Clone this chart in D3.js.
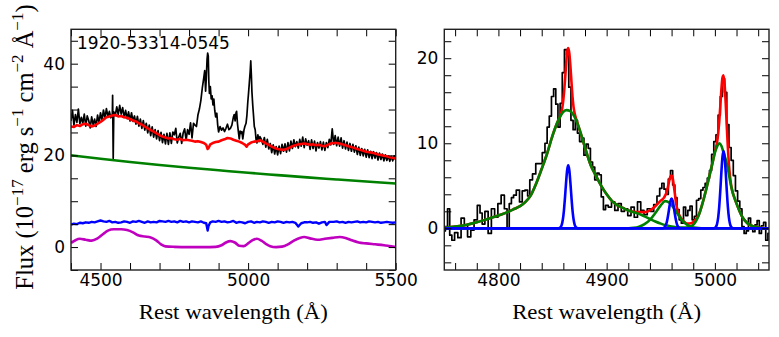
<!DOCTYPE html>
<html><head><meta charset="utf-8">
<script src="https://cdn.jsdelivr.net/npm/d3@7/dist/d3.min.js"></script>
<style>
html,body{margin:0;padding:0;background:#fff;}
svg{display:block;}
.tick text{font-family:"DejaVu Sans",sans-serif;font-size:17px;fill:#000;}
</style></head>
<body><svg id="c" width="779" height="337"></svg>
<script>
// ---------- DATA ----------
const spectrumLabel = "1920-53314-0545";
const leftXTicks = [4400,4500,4600,4700,4800,4900,5000,5100,5200,5300,5400,5500];
const leftXLabels = [4500,5000,5500];
const leftYTicks = [-5,0,5,10,15,20,25,30,35,40,45];
const leftYLabels = [0,20,40];
const rightXTicks = [4760,4780,4800,4820,4840,4860,4880,4900,4920,4940,4960,4980,5000,5020,5040];
const rightXLabels = [4800,4900,5000];
const rightYTicks = [-4,-2,0,2,4,6,8,10,12,14,16,18,20,22];
const rightYLabels = [0,10,20];

// observed spectrum (left)
const obsFlux = [
[4400,27.5],[4405,29.8],[4410,26.6],[4415,28.9],[4420,27.2],[4425,30.1],[4430,26.9],[4435,28.3],[4440,27.0],[4445,29.0],
[4450,26.4],[4455,28.6],[4460,27.6],[4465,26.0],[4470,28.4],[4475,26.7],[4480,27.9],[4485,26.3],[4490,28.8],[4495,27.1],
[4500,29.3],[4505,27.6],[4510,29.9],[4515,28.1],[4520,30.2],[4525,28.5],[4530,29.6],[4535,28.2],[4540,29.0],[4541,33.1],
[4543,19.3],[4545,29.5],[4550,28.7],[4555,30.6],[4560,28.9],[4565,30.9],[4570,29.0],[4575,30.4],[4580,28.3],[4585,29.8],
[4590,28.0],[4595,29.5],[4600,27.5],[4605,29.3],[4610,27.4],[4615,28.6],[4620,26.8],[4625,28.5],[4630,26.4],[4635,27.9],
[4640,25.9],[4645,27.6],[4650,25.5],[4655,27.0],[4660,24.9],[4665,26.6],[4670,24.3],[4675,26.2],[4680,24.0],[4685,25.6],
[4690,23.6],[4695,25.4],[4700,23.2],[4705,25.0],[4710,22.8],[4715,24.6],[4720,22.5],[4725,24.8],[4730,22.4],[4735,24.9],
[4740,22.6],[4745,25.1],[4750,24.5],[4755,25.9],[4760,22.7],[4765,24.0],[4770,24.8],[4775,22.6],[4780,24.9],[4785,25.8],
[4790,23.3],[4795,25.6],[4800,24.6],[4805,27.1],[4810,23.8],[4815,27.0],[4820,26.6],[4825,26.3],[4830,28.8],[4835,30.1],
[4840,32.0],[4845,34.8],[4850,37.0],[4853,38.5],[4856,34.0],[4858,36.4],[4861,41.0],[4863,42.3],[4865,41.7],[4867,36.0],
[4869,33.5],[4872,35.0],[4875,32.3],[4878,33.0],[4881,31.0],[4884,32.3],[4887,29.8],[4890,28.4],[4894,29.2],[4897,26.6],
[4900,25.1],[4905,26.3],[4910,25.5],[4915,26.0],[4920,25.2],[4925,25.9],[4930,26.8],[4935,25.6],[4940,25.9],[4945,26.6],
[4950,28.3],[4953,28.9],[4956,27.5],[4959,29.3],[4961,29.6],[4964,26.9],[4967,25.2],[4970,23.6],[4973,25.3],[4976,24.8],
[4979,25.2],[4982,23.6],[4986,25.5],[4989,26.3],[4993,27.0],[4996,28.8],[4999,31.7],[5001,33.2],[5004,35.7],[5007,38.3],
[5009,40.6],[5011,37.6],[5013,33.8],[5016,30.7],[5018,29.0],[5021,26.3],[5024,25.6],[5027,23.4],[5030,22.7],[5033,24.5],
[5037,23.0],[5040,24.1],[5045,23.5],[5050,22.4],[5055,23.9],[5060,21.8],[5065,23.5],[5070,21.4],[5075,22.6],[5080,20.6],
[5085,22.3],[5090,20.3],[5095,21.9],[5100,20.1],[5105,22.0],[5110,20.4],[5115,22.4],[5120,20.9],[5125,22.5],[5130,20.7],
[5135,22.8],[5140,21.0],[5145,23.1],[5150,21.5],[5155,23.4],[5160,21.9],[5165,23.0],[5170,21.6],[5175,23.5],[5180,22.0],
[5185,24.0],[5190,21.7],[5195,23.6],[5200,22.2],[5205,23.2],[5210,21.3],[5215,23.4],[5220,21.5],[5225,23.1],[5230,21.0],
[5235,22.8],[5240,21.6],[5245,23.0],[5250,21.2],[5255,22.9],[5260,21.1],[5265,22.8],[5270,21.7],[5275,23.5],[5280,22.3],
[5285,25.8],[5290,22.4],[5295,24.3],[5300,22.1],[5305,24.0],[5310,22.0],[5315,23.8],[5320,21.6],[5325,23.2],[5330,21.4],
[5335,22.9],[5340,21.1],[5345,22.6],[5350,20.9],[5355,22.4],[5360,20.7],[5365,22.1],[5370,20.2],[5375,21.8],[5380,20.0],
[5385,21.5],[5390,19.9],[5395,21.3],[5400,19.6],[5405,21.2],[5410,19.5],[5415,20.9],[5420,19.3],[5425,20.8],[5430,19.4],
[5435,20.6],[5440,19.0],[5445,20.5],[5450,19.1],[5455,20.3],[5460,18.8],[5465,20.1],[5470,18.9],[5475,19.9],[5480,18.7],
[5485,19.8],[5490,18.8],[5495,19.9],[5500,19.0]];

// continuum model (red)
const contModel = [
[4400,26.3],[4410,26.2],[4420,26.6],[4430,26.4],[4440,26.8],[4450,26.9],[4460,26.6],[4470,26.3],[4480,26.5],[4490,26.9],
[4500,27.3],[4510,27.8],[4520,28.3],[4530,28.5],[4540,28.7],[4550,28.8],[4560,28.5],[4570,28.6],[4580,28.3],[4590,28.2],
[4600,27.9],[4610,27.6],[4620,27.4],[4630,27.0],[4640,26.7],[4650,26.3],[4660,25.9],[4670,25.5],[4680,25.2],[4690,24.8],
[4700,24.4],[4710,24.1],[4720,23.9],[4730,23.7],[4740,23.8],[4750,23.5],[4760,23.4],[4770,23.6],[4780,23.3],[4790,23.4],
[4800,23.3],[4810,23.2],[4820,23.0],[4830,23.1],[4840,22.9],[4850,22.7],[4858,22.3],[4863,21.4],[4866,21.6],[4872,22.4],
[4880,22.7],[4890,22.9],[4900,23.0],[4910,23.3],[4920,23.5],[4930,23.8],[4940,23.7],[4950,23.4],[4960,23.2],[4970,23.0],
[4980,22.7],[4990,22.3],[4995,21.9],[5000,22.4],[5010,22.8],[5020,23.0],[5030,23.1],[5040,23.3],[5050,23.0],[5060,22.6],
[5070,22.3],[5080,21.9],[5090,21.6],[5100,21.4],[5110,21.3],[5120,21.2],[5130,21.4],[5140,21.7],[5150,22.0],[5160,22.2],
[5170,22.4],[5180,22.5],[5190,22.6],[5200,22.5],[5210,22.3],[5220,22.4],[5230,22.2],[5240,22.3],[5250,22.1],[5260,22.0],
[5270,22.3],[5280,22.6],[5290,22.7],[5300,22.7],[5310,22.6],[5320,22.4],[5330,22.2],[5340,22.0],[5350,21.8],[5360,21.6],
[5370,21.4],[5380,21.2],[5390,21.0],[5400,20.8],[5410,20.7],[5420,20.6],[5430,20.4],[5440,20.2],[5450,20.1],[5460,19.9],
[5470,19.8],[5480,19.6],[5490,19.5],[5500,19.3]];

// power law (green)
const powerLaw = [
[4400,20.0],[4500,19.25],[4600,18.55],[4700,17.9],[4800,17.3],[4900,16.75],[5000,16.2],[5100,15.7],[5200,15.2],[5300,14.75],[5400,14.3],[5500,13.85]];

// host galaxy (blue)
const hostGalaxy = [
[4400,4.9],[4410,5.1],[4420,5.0],[4430,5.3],[4440,5.2],[4450,5.4],[4460,5.3],[4470,5.5],[4480,5.4],[4490,5.6],
[4500,5.8],[4510,5.6],[4520,5.5],[4530,5.7],[4540,5.4],[4550,5.5],[4560,5.3],[4570,5.4],[4580,5.6],[4590,5.5],
[4600,5.3],[4610,5.6],[4620,5.5],[4630,5.7],[4640,5.5],[4650,5.3],[4660,5.6],[4670,5.4],[4680,5.5],[4690,5.4],
[4700,5.7],[4710,5.6],[4720,5.5],[4730,5.7],[4740,5.5],[4750,5.6],[4760,5.4],[4770,5.7],[4780,5.5],[4790,5.6],
[4800,5.4],[4810,5.6],[4820,5.5],[4830,5.4],[4840,5.6],[4850,5.3],[4858,5.2],[4863,3.6],[4866,4.6],[4872,5.4],
[4880,5.6],[4890,5.5],[4900,5.7],[4910,5.5],[4920,5.6],[4930,5.4],[4940,5.5],[4950,5.7],[4960,5.3],[4970,5.5],
[4980,5.4],[4990,5.2],[5000,5.5],[5010,5.6],[5020,5.3],[5030,5.5],[5040,5.4],[5050,5.6],[5060,5.5],[5070,5.3],
[5080,5.5],[5090,5.4],[5100,5.6],[5110,5.5],[5120,5.3],[5130,5.5],[5140,5.4],[5150,5.5],[5160,5.3],[5170,4.5],
[5180,5.2],[5190,5.4],[5200,5.4],[5210,5.5],[5220,5.3],[5230,5.4],[5240,5.1],[5250,5.4],[5260,5.5],[5266,4.8],
[5275,5.5],[5290,5.5],[5300,5.6],[5310,5.4],[5320,5.5],[5330,5.3],[5340,5.5],[5350,5.4],[5360,5.5],[5370,5.6],
[5380,5.4],[5390,5.5],[5400,5.4],[5410,5.6],[5420,5.5],[5430,5.4],[5440,5.5],[5450,5.3],[5460,5.4],[5470,5.5],
[5480,5.4],[5490,5.3],[5500,5.4]];

// Fe II (magenta)
const feII = [
[4400,0.9],[4415,1.5],[4430,1.8],[4450,1.6],[4470,1.4],[4490,1.9],[4510,2.9],[4525,3.6],[4545,3.9],[4570,3.9],
[4590,3.7],[4610,3.2],[4630,2.5],[4650,2.3],[4670,2.1],[4690,1.4],[4705,0.6],[4720,0.15],[4750,0.05],[4800,0.0],
[4850,0.0],[4890,0.05],[4910,0.4],[4925,1.0],[4940,1.3],[4955,1.0],[4970,0.3],[4985,0.2],[5000,0.8],[5015,1.5],
[5030,1.8],[5045,1.4],[5060,0.7],[5075,0.2],[5095,0.0],[5115,0.1],[5135,0.6],[5155,1.4],[5175,2.0],[5190,2.2],
[5210,1.9],[5235,1.6],[5260,1.8],[5285,2.0],[5310,2.2],[5330,2.0],[5350,1.5],[5375,1.0],[5400,0.8],[5430,0.6],
[5460,0.4],[5480,0.2],[5500,0.0]];

// continuum-subtracted line spectrum (right)
const lineFlux = [
[4750,-0.3],[4752,0.2],[4754,2.3],[4756,-0.8],[4758,-1.4],[4761,-0.5],[4764,-1.1],[4767,1.2],[4770,0.4],[4773,-1.0],
[4776,-0.2],[4779,1.0],[4782,2.7],[4784,1.8],[4786,0.5],[4789,2.0],[4792,-0.6],[4795,2.3],[4798,1.3],[4801,2.9],
[4804,3.9],[4807,2.3],[4809,0.0],[4811,2.9],[4813,3.6],[4815,3.9],[4818,4.5],[4821,3.1],[4823,4.4],[4826,4.5],
[4828,3.8],[4830,5.7],[4833,6.4],[4836,7.6],[4839,7.6],[4842,8.9],[4844,10.0],[4846,11.9],[4848,13.2],[4850,15.5],
[4852,16.4],[4854,14.6],[4856,11.9],[4858,14.7],[4860,18.3],[4862,21.0],[4864,20.4],[4866,16.6],[4868,12.7],[4870,11.6],
[4872,12.7],[4874,11.2],[4876,10.2],[4878,10.6],[4880,8.6],[4882,9.9],[4884,9.4],[4886,7.8],[4888,7.2],[4890,5.7],
[4892,6.5],[4894,6.3],[4896,3.7],[4898,2.2],[4900,2.7],[4903,2.5],[4906,3.1],[4909,2.1],[4912,2.9],[4915,2.0],
[4918,2.3],[4921,1.5],[4924,2.5],[4927,1.3],[4930,3.1],[4933,2.1],[4936,1.6],[4939,2.3],[4942,2.0],[4945,2.8],
[4948,3.8],[4950,4.7],[4952,5.3],[4954,4.6],[4956,4.0],[4958,5.8],[4960,6.8],[4962,5.1],[4964,3.6],[4966,2.2],
[4968,1.0],[4970,0.6],[4972,2.5],[4974,1.5],[4976,2.1],[4978,2.6],[4980,1.0],[4982,1.4],[4984,3.3],[4986,3.5],
[4988,4.5],[4990,4.8],[4992,5.3],[4994,5.9],[4996,6.8],[4998,8.7],[5000,10.2],[5002,11.0],[5004,13.3],[5006,15.5],
[5008,17.6],[5010,16.0],[5012,12.2],[5014,9.5],[5016,8.0],[5018,6.2],[5020,4.4],[5022,3.2],[5024,2.3],[5026,0.2],
[5028,-0.6],[5030,-0.3],[5032,1.2],[5034,0.3],[5036,-0.4],[5038,0.4],[5040,0.9],[5042,-0.6],[5044,0.3],[5046,0.7],
[5048,-1.4],[5050,-0.6]];

// total line model (red)
const totalModel = [
[4750,0.05],[4760,0.2],[4770,0.4],[4780,0.7],[4790,1.1],[4800,1.5],[4810,2.0],[4815,2.3],[4820,2.6],[4825,3.1],
[4830,3.9],[4835,5.3],[4840,7.0],[4845,8.8],[4850,10.9],[4855,12.6],[4856.5,13.0],[4857.5,13.35],[4858.5,13.8],[4859.5,14.6],
[4860.5,15.8],[4861.5,17.4],[4862.5,19.2],[4863.5,20.7],[4864.5,21.2],[4865.5,20.6],[4866.5,19.1],[4867.5,17.2],[4868.5,15.4],[4869.5,14.2],
[4870.5,13.5],[4871.5,13.0],[4873,12.4],[4875,11.6],[4880,9.5],[4885,7.5],[4890,6.2],[4895,5.0],[4900,4.0],[4905,3.2],
[4910,2.7],[4915,2.4],[4920,2.1],[4925,1.95],[4930,1.9],[4935,1.9],[4940,2.1],[4945,2.6],[4950,3.25],[4953,3.6],
[4954,3.85],[4955,4.1],[4956,4.5],[4957,5.1],[4958,5.7],[4959,6.1],[4960,6.2],[4961,5.9],[4962,5.1],[4963,4.1],
[4964,3.1],[4965,2.4],[4966,1.9],[4967,1.6],[4970,1.0],[4975,0.55],[4978,0.6],[4980,0.75],[4985,1.55],[4990,3.6],
[4995,6.2],[4998,7.8],[5000,9.0],[5001,9.5],[5002,10.1],[5003,11.1],[5004,12.5],[5005,14.35],[5006,16.3],[5007,17.7],
[5008,18.0],[5009,16.9],[5010,14.7],[5011,12.0],[5012,9.5],[5013,7.5],[5014,6.1],[5015,5.1],[5016,4.46],[5018,3.6],
[5020,2.9],[5025,1.4],[5030,0.6],[5035,0.25],[5040,0.1],[5045,0.03],[5050,0.0]];

// broad components (green)
const broadHb = [
[4750,0.05],[4760,0.2],[4770,0.4],[4780,0.7],[4790,1.1],[4800,1.5],[4810,2.0],[4815,2.3],[4820,2.6],[4825,3.1],
[4830,3.9],[4835,5.3],[4840,7.0],[4845,8.8],[4850,10.9],[4855,12.6],[4860,13.7],[4863,13.9],[4866,13.8],[4870,13.2],
[4875,11.6],[4880,9.5],[4885,7.5],[4890,6.2],[4895,5.0],[4900,4.0],[4905,3.2],[4910,2.7],[4915,2.4],[4920,2.1],
[4925,1.9],[4930,1.7],[4935,1.4],[4940,1.1],[4945,0.8],[4950,0.55],[4955,0.35],[4960,0.2],[4970,0.08],[4980,0.02],
[4990,0.0],[5050,0.0]];
const broadO4959 = [
[4750,0.0],[4920,0.0],[4925,0.05],[4930,0.2],[4935,0.5],[4940,1.0],[4945,1.8],[4950,2.7],[4954,3.2],[4958,3.0],
[4962,2.4],[4966,1.6],[4970,0.9],[4975,0.35],[4980,0.1],[4985,0.02],[4990,0.0],[5050,0.0]];
const broadO5007 = [
[4750,0.0],[4970,0.0],[4975,0.1],[4980,0.4],[4985,1.5],[4990,3.6],[4995,6.2],[4998,7.8],[5000,8.9],[5002,9.6],
[5004,10.0],[5006,9.7],[5008,8.9],[5010,8.1],[5012,7.0],[5014,5.6],[5016,4.4],[5018,3.6],[5020,2.9],[5025,1.4],
[5030,0.6],[5035,0.25],[5040,0.1],[5045,0.03],[5050,0.0]];

// narrow components (blue)
const narrowHb = [
[4750,0],[4855.5,0],[4856.5,0.05],[4857.5,0.15],[4858.5,0.41],[4859.5,1.0],[4860.5,2.06],[4861.5,3.6],[4862.5,5.37],[4863.5,6.83],
[4864.5,7.4],[4865.5,6.83],[4866.5,5.37],[4867.5,3.6],[4868.5,2.06],[4869.5,1.0],[4870.5,0.41],[4871.5,0.15],[4872.5,0.05],[4873.5,0],[5050,0]];
const narrowO4959 = [
[4750,0],[4952,0],[4953,0.07],[4954,0.2],[4955,0.47],[4956,0.97],[4957,1.7],[4958,2.54],[4959,3.23],[4960,3.5],
[4961,3.23],[4962,2.54],[4963,1.7],[4964,0.97],[4965,0.47],[4966,0.2],[4967,0.07],[4968,0],[5050,0]];
const narrowO5007 = [
[4750,0],[4999,0],[5000,0.06],[5001,0.18],[5002,0.51],[5003,1.23],[5004,2.53],[5005,4.43],[5006,6.6],[5007,8.4],
[5008,9.1],[5009,8.4],[5010,6.6],[5011,4.43],[5012,2.53],[5013,1.23],[5014,0.51],[5015,0.18],[5016,0.06],[5017,0],[5050,0]];

// ---------- DRAW ----------
const svg = d3.select("#c");
svg.append("rect").attr("width",779).attr("height",337).attr("fill","#fff");

const L = {x0:71, x1:395.7, y0:29.3, y1:270};
const R = {x0:444.3, x1:769, y0:29.3, y1:270};
const lx = d3.scaleLinear().domain([4400,5500]).range([L.x0,L.x1]);
const ly = d3.scaleLinear().domain([-5,47.5]).range([L.y1,L.y0]);
const rx = d3.scaleLinear().domain([4750,5050]).range([R.x0,R.x1]);
const ry = d3.scaleLinear().domain([-4.9,23.4]).range([R.y1,R.y0]);

const defs = svg.append("defs");
defs.append("clipPath").attr("id","clipL").append("rect")
  .attr("x",L.x0).attr("y",L.y0).attr("width",L.x1-L.x0).attr("height",L.y1-L.y0);
defs.append("clipPath").attr("id","clipR").append("rect")
  .attr("x",R.x0).attr("y",R.y0).attr("width",R.x1-R.x0).attr("height",R.y1-R.y0);

function drawLine(g, data, xs, ys, color, width, curve){
  const line = d3.line().x(d=>xs(d[0])).y(d=>ys(d[1])).curve(curve||d3.curveLinear);
  g.append("path").datum(data).attr("d",line).attr("fill","none")
    .attr("stroke",color).attr("stroke-width",width).attr("stroke-linejoin","round");
}

const gL = svg.append("g").attr("clip-path","url(#clipL)");
drawLine(gL, obsFlux, lx, ly, "#000", 1.7);
drawLine(gL, contModel, lx, ly, "#ff0000", 2.6);
drawLine(gL, powerLaw, lx, ly, "#008000", 2.6, d3.curveMonotoneX);
drawLine(gL, hostGalaxy, lx, ly, "#0000ff", 2.4);
drawLine(gL, feII, lx, ly, "#bf00bf", 2.6, d3.curveMonotoneX);

const gR = svg.append("g").attr("clip-path","url(#clipR)");
drawLine(gR, lineFlux, rx, ry, "#000", 1.7, d3.curveStep);
drawLine(gR, totalModel, rx, ry, "#ff0000", 2.6, d3.curveMonotoneX);
drawLine(gR, broadHb, rx, ry, "#008000", 2.6, d3.curveMonotoneX);
drawLine(gR, broadO4959, rx, ry, "#008000", 2.6, d3.curveMonotoneX);
drawLine(gR, broadO5007, rx, ry, "#008000", 2.6, d3.curveMonotoneX);
drawLine(gR, narrowHb, rx, ry, "#0000ff", 2.6, d3.curveMonotoneX);
drawLine(gR, narrowO4959, rx, ry, "#0000ff", 2.6, d3.curveMonotoneX);
drawLine(gR, narrowO5007, rx, ry, "#0000ff", 2.6, d3.curveMonotoneX);

function axes(P, xs, ys, xt, xl, yt, yl){
  const tl = 7;
  const fx = d => xl.includes(d) ? String(d) : "";
  const fy = d => yl.includes(d) ? String(d) : "";
  const b = svg.append("g").attr("transform",`translate(0,${P.y1})`)
    .call(d3.axisBottom(xs).tickValues(xt).tickSize(-tl).tickPadding(4).tickFormat(fx));
  const t = svg.append("g").attr("transform",`translate(0,${P.y0})`)
    .call(d3.axisTop(xs).tickValues(xt).tickSize(-tl).tickFormat(""));
  const l = svg.append("g").attr("transform",`translate(${P.x0},0)`)
    .call(d3.axisLeft(ys).tickValues(yt).tickSize(-tl).tickPadding(6).tickFormat(fy));
  const r = svg.append("g").attr("transform",`translate(${P.x1},0)`)
    .call(d3.axisRight(ys).tickValues(yt).tickSize(-tl).tickFormat(""));
  [b,t,l,r].forEach(g=>{
    g.select(".domain").remove();
    g.selectAll(".tick line").attr("stroke","#000").attr("stroke-width",1);
  });
  svg.append("rect").attr("x",P.x0).attr("y",P.y0).attr("width",P.x1-P.x0).attr("height",P.y1-P.y0)
    .attr("fill","none").attr("stroke","#222").attr("stroke-width",1.4);
}
axes(L, lx, ly, leftXTicks, leftXLabels, leftYTicks, leftYLabels);
axes(R, rx, ry, rightXTicks, rightXLabels, rightYTicks, rightYLabels);

// spectrum id
svg.append("text").attr("x",77).attr("y",48.5).text(spectrumLabel)
  .attr("font-family","DejaVu Sans, sans-serif").attr("font-size",17).attr("fill","#000");

// x labels
const serif = "Liberation Serif, DejaVu Serif, serif";
[[L,"Rest wavelength (Å)"],[R,"Rest wavelength (Å)"]].forEach(([P,s])=>{
  svg.append("text").attr("x",(P.x0+P.x1)/2).attr("y",319).attr("text-anchor","middle")
    .attr("font-family",serif).attr("font-size",22).attr("fill","#000")
    .attr("textLength",189).attr("lengthAdjust","spacingAndGlyphs").text(s);
});

// y label
const yl = svg.append("text").attr("transform","translate(33,147) rotate(-90)")
  .attr("text-anchor","middle").attr("font-family",serif).attr("font-size",24.5).attr("fill","#000");
const parts = [["Flux (10",0],["−17",1],[" erg s",0],["−1",1],[" cm",0],["−2",1],[" Å",0],["−1",1],[")",0]];
let prevSup = 0;
parts.forEach(([s,sup])=>{
  const ts = yl.append("tspan").text(s);
  if(sup){ ts.attr("font-size",17).attr("dy",-10); }
  else if(prevSup){ ts.attr("dy",10); }
  prevSup = sup;
});
</script></body></html>
